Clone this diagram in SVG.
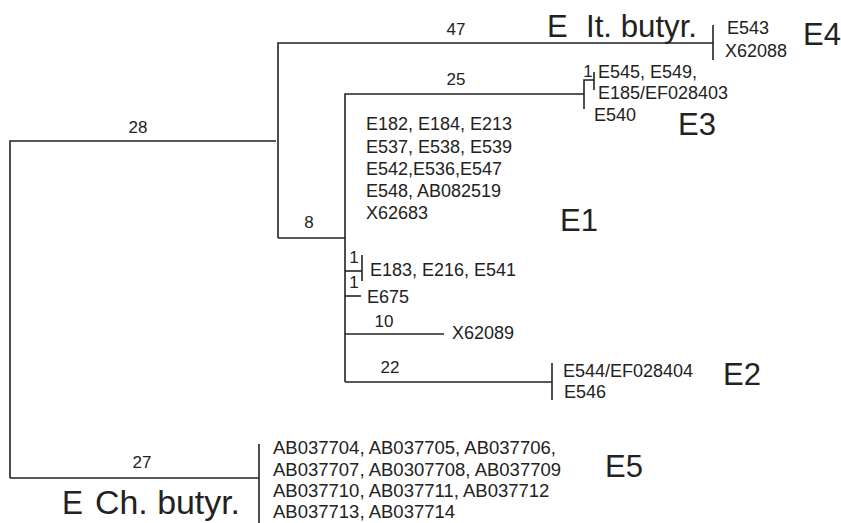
<svg xmlns="http://www.w3.org/2000/svg" width="841" height="523" viewBox="0 0 841 523">
<style>
.e{stroke:#222;stroke-width:1.6;fill:none}
text{font-family:"Liberation Sans",Arial,sans-serif;fill:#222}
.t{font-size:18px}
.s{font-size:18.5px}
.n{font-size:17px}
.b{font-size:31px}
</style>
<rect width="841" height="523" fill="#fff"/>
<g id="connectors">
<path class="e" d="M10,478 V141 H276"/>
<path class="e" d="M278,238 V43 H713"/>
<path class="e" d="M713,25 V60"/>
<path class="e" d="M278,238 H345"/>
<path class="e" d="M345,382 V94 H584"/>
<path class="e" d="M584,109 V80 H594"/>
<path class="e" d="M594,72 V90"/>
<path class="e" d="M345,271 H362"/>
<path class="e" d="M362,255 V281"/>
<path class="e" d="M345,296 H361"/>
<path class="e" d="M345,334 H444"/>
<path class="e" d="M345,382 H552"/>
<path class="e" d="M552,363 V400"/>
<path class="e" d="M10,478 H259"/>
<path class="e" d="M259,444 V523"/>
</g>
<g id="labels">
<text class="n" x="138" y="133" text-anchor="middle">28</text>
<text class="n" x="456" y="35" text-anchor="middle">47</text>
<text class="n" x="456" y="85" text-anchor="middle">25</text>
<text class="n" x="309" y="228" text-anchor="middle">8</text>
<text class="n" x="354" y="263" text-anchor="middle">1</text>
<text class="n" x="354" y="288" text-anchor="middle">1</text>
<text class="n" x="588" y="77" text-anchor="middle">1</text>
<text class="n" x="384" y="327" text-anchor="middle">10</text>
<text class="n" x="390" y="373" text-anchor="middle">22</text>
<text class="n" x="142" y="468" text-anchor="middle">27</text>
</g>
<g id="E4">
<text class="b" x="547" y="37">E</text>
<text class="b" x="586" y="37" textLength="111" lengthAdjust="spacingAndGlyphs">It. butyr.</text>
<text class="t" x="727" y="34">E543</text>
<text class="t" x="725" y="57">X62088</text>
<text class="b" x="803" y="45">E4</text>
</g>
<g id="E3">
<text class="t" x="598" y="78">E545, E549,</text>
<text class="t" x="598" y="99">E185/EF028403</text>
<text class="t" x="594" y="121">E540</text>
<text class="b" x="678" y="135">E3</text>
</g>
<g id="E1">
<text class="t" x="366" y="130">E182, E184, E213</text>
<text class="t" x="366" y="153">E537, E538, E539</text>
<text class="t" x="366" y="175">E542,E536,E547</text>
<text class="t" x="366" y="197">E548, AB082519</text>
<text class="t" x="366" y="219">X62683</text>
<text class="b" x="560" y="231">E1</text>
<text class="t" x="370" y="276">E183, E216, E541</text>
<text class="t" x="367" y="303">E675</text>
<text class="t" x="452" y="339">X62089</text>
</g>
<g id="E2">
<text class="t" x="563" y="377">E544/EF028404</text>
<text class="t" x="564" y="398">E546</text>
<text class="b" x="723" y="385">E2</text>
</g>
<g id="E5">
<text class="s" x="273" y="454">AB037704, AB037705, AB037706,</text>
<text class="s" x="273" y="476">AB037707, AB0307708, AB037709</text>
<text class="s" x="273" y="497">AB037710, AB037711, AB037712</text>
<text class="s" x="273" y="518">AB037713, AB037714</text>
<text class="b" x="605" y="477">E5</text>
<text x="62" y="514" style="font-size:34px" textLength="21" lengthAdjust="spacingAndGlyphs">E</text>
<text x="95" y="514" style="font-size:34px" textLength="145" lengthAdjust="spacingAndGlyphs">Ch. butyr.</text>
</g>
</svg>
